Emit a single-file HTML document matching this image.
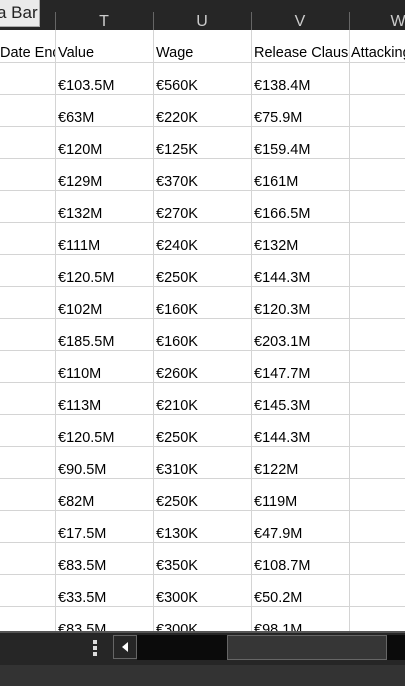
<!DOCTYPE html>
<html><head><meta charset="utf-8"><style>
body{margin:0;width:405px;height:686px;overflow:hidden;background:#fff;font-family:"Liberation Sans",Arial,sans-serif;position:relative}
.abs{position:absolute}
.hdr{left:0;top:0;width:405px;height:30px;background:#262626}
.btn{left:0;top:0;width:40px;height:27px;background:#eaeaea;border-right:1px solid #aaa;border-bottom:1px solid #aaa;font-size:17px;color:#222;line-height:26px;text-indent:-3px;box-sizing:border-box;white-space:nowrap;overflow:hidden}
.col{top:13px;font-size:16px;color:#ccc;text-align:center;width:98px}
.hsep{top:12px;width:1px;height:18px;background:#666}
.vl{top:30px;width:1px;height:601px;background:#d4d4d4}
.hl{left:0;width:405px;height:1px;background:#d4d4d4}
.cell{font-size:14.5px;color:#000;white-space:nowrap;overflow:hidden;height:18px;line-height:18px}
</style></head><body>
<div class="abs hdr"></div>
<div class="abs btn">a Bar</div>
<div class="abs col" style="left:55px">T</div>
<div class="abs col" style="left:153px">U</div>
<div class="abs col" style="left:251px">V</div>
<div class="abs col" style="left:349px">W</div>
<div class="abs hsep" style="left:55px"></div><div class="abs hsep" style="left:153px"></div><div class="abs hsep" style="left:251px"></div><div class="abs hsep" style="left:349px"></div>
<div id="grid"></div>
<div class="abs" style="left:0;top:631px;width:405px;height:34px;background:#262626"></div>
<div class="abs" style="left:0;top:631px;width:405px;height:2px;background:#555"></div>
<div class="abs" style="left:93px;top:640px;width:4px;height:4px;background:#ddd;box-shadow:0 6px 0 #ddd,0 12px 0 #ddd"></div>
<div class="abs" style="left:113px;top:635px;width:24px;height:24px;border:1px solid #666;box-sizing:border-box;background:#262626"><div class="abs" style="left:8px;top:6px;width:0;height:0;border-top:5px solid transparent;border-bottom:5px solid transparent;border-right:6px solid #fff"></div></div>
<div class="abs" style="left:137px;top:635px;width:268px;height:25px;background:#0b0b0b"></div>
<div class="abs" style="left:227px;top:635px;width:160px;height:25px;background:#363636;border:1px solid #666;box-sizing:border-box"></div>
<div class="abs" style="left:0;top:665px;width:405px;height:21px;background:#333"></div>
<script>
const values=["€103.5M","€63M","€120M","€129M","€132M","€111M","€120.5M","€102M","€185.5M","€110M","€113M","€120.5M","€90.5M","€82M","€17.5M","€83.5M","€33.5M","€83.5M"];
const wages=["€560K","€220K","€125K","€370K","€270K","€240K","€250K","€160K","€160K","€260K","€210K","€250K","€310K","€250K","€130K","€350K","€300K","€300K"];
const clauses=["€138.4M","€75.9M","€159.4M","€161M","€166.5M","€132M","€144.3M","€120.3M","€203.1M","€147.7M","€145.3M","€144.3M","€122M","€119M","€47.9M","€108.7M","€50.2M","€98.1M"];
const g=document.getElementById('grid');
function add(cls,style,text,name,inter){const d=document.createElement('div');d.className='abs '+cls;d.style.cssText=style;if(text!=null)d.textContent=text;


g.appendChild(d);}
[55,153,251,349].forEach(x=>add('vl','left:'+x+'px',null,'column-gridline','false'));
for(let i=0;i<18;i++)add('hl','top:'+(62+i*32)+'px',null,'row-gridline','false');
const hy=44;
add('cell','left:0;top:'+hy+'px;width:55px','Date End','header-date-end','true');
add('cell','left:58px;top:'+hy+'px;width:95px','Value','header-value','true');
add('cell','left:156px;top:'+hy+'px;width:95px','Wage','header-wage','true');
add('cell','left:254px;top:'+hy+'px;width:95px','Release Clause','header-release-clause','true');
add('cell','left:351px;top:'+hy+'px;width:54px','Attacking','header-attacking','true');
for(let i=0;i<values.length;i++){const y=62+i*32+15;
add('cell','left:58px;top:'+y+'px;width:95px',values[i],'value-cell','true');
add('cell','left:156px;top:'+y+'px;width:95px',wages[i],'wage-cell','true');
add('cell','left:254px;top:'+y+'px;width:95px',clauses[i],'release-clause-cell','true');}
</script>
</body></html>
